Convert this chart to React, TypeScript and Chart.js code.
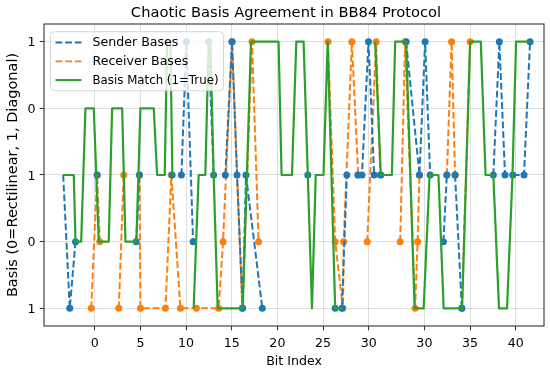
import React, { useEffect, useRef } from 'react';
import { Chart, registerables } from 'chart.js';

Chart.register(...registerables);

const TITLE = 'Chaotic Basis Agreement in BB84 Protocol';
const X_LABEL = 'Bit Index';
const Y_LABEL = 'Basis (0=Rectilinear, 1, Diagonal)';
const SERIES_NAMES = ['Sender Bases', 'Receiver Bases', 'Basis Match (1=True)'];

// y levels (bottom to top) and their printed labels
const LEVEL_TICKS = [0, 1, 2, 3, 4];
const LEVEL_LABELS = ['1', '0', '1', '0', '1'];

// x tick positions and their printed labels
const X_TICKS = [0, 5, 10, 15, 20, 25, 30, 36.1, 41.1, 46.1];
const X_TICK_LABELS = ['0', '5', '10', '15', '20', '25', '30', '30', '35', '40'];

// null = break in the line
const senderX = [-3.46, -2.74, -2.11, null, 0.26, null, 4.53, 4.89, null, 8.47, null, 9.49, 10.03, 10.77, null,
  12.47, 13.02, null, 14.3, 15.03, 15.58, 16.19, 16.56, 18.35, null, 23.33, null, 26.33, 27.07, 27.61, null,
  28.82, 29.26, 29.98, 30.6, null, 31.33, null, 34.1, 35.56, 36.18, 36.73, null, 38.18, 38.56, null,
  39.46, 40.2, null, 43.65, 44.31, 44.93, null, 45.78, 47.01, 47.67];
const senderY = [2, 0, 1, null, 2, null, 1, 2, null, 2, null, 2, 4, 1, null,
  4, 2, null, 2, 4, 2, 0, 2, 0, null, 2, null, 0, 0, 2, null,
  2, 2, 4, 2, null, 2, null, 4, 2, 4, 2, null, 1, 2, null,
  2, 0, null, 2, 4, 2, null, 2, 2, 4];

const receiverX = [-0.39, 0.26, 0.55, null, 2.63, 3.17, null, 4.89, 5.0, 7.74, 8.39, 9.38, 11.13, 13.57, 14.05,
  15.03, 16.16, 17.22, 17.94, null, 25.54, 26.33, 27.18, 27.26, 28.16, 28.85, null, 29.84, 30.82, 31.26, null,
  33.45, 33.99, 35.08, 35.36, 35.56, null, 38.56, 39.08, 39.46, null, 40.2, 41.11];
const receiverY = [0, 2, 1, null, 0, 2, null, 2, 0, 0, 2, 0, 0, 0, 1,
  4, 0, 4, 1, null, 4, 1, 0, 1, 4, 2, null, 1, 4, 2, null,
  1, 4, 0, 1, 2, null, 2, 4, 2, null, 0, 4];

const matchX = [-3.46, -2.3, -2.11, -1.49, -1.02, -0.11, 0.44, 1.53, 1.9, 3.0, 3.36, 4.56, 5.0, 6.46, 6.83, 7.66,
  7.92, 8.28, 8.5, null, 10.83, 11.38, 12.11, 12.47, 12.66, 13.02, 13.46, 16.21, 17.11, 20.13, 20.46, 21.6,
  22.07, 22.87, 23.79, 24.2, 25.05, 25.51, 26.33, 27.1, null, 30.71, 31.33, 32.54, 32.9, 34.1, 35.03, 36.02,
  36.67, 37.64, 38.21, 40.23, 41.11, 42.28, 42.8, 43.65, 44.27, 45.15, 45.75, 46.14, 47.67];
const matchY = [2, 2, 1, 1, 3, 3, 1, 1, 3, 3, 1, 1, 3, 3, 2, 2,
  4, 4, 2, null, 0, 2, 2, 4, 4, 2, 0, 0, 4, 4, 2, 2,
  4, 4, 0, 2, 2, 4, 0, 0, null, 4, 2, 2, 4, 4, 0, 0,
  2, 2, 0, 0, 4, 4, 2, 2, 0, 0, 2, 4, 4];

const X_MIN = -5.56;
const X_MAX = 49.2;
const Y_MIN = -0.265;
const Y_MAX = 4.265;

const BLUE = '#1f77b4';
const ORANGE = '#ff7f0e';
const GREEN = '#2ca02c';
const FONT = '"DejaVu Sans", sans-serif';

function toPoints(xs: (number | null)[], ys: (number | null)[]) {
  let last = 0;
  return xs.map((x, i) => {
    if (x !== null) last = x;
    return { x: last, y: ys[i] };
  });
}

const decorPlugin = {
  id: 'decor',
  afterDatasetsDraw(chart: any) {
    const { ctx, chartArea: a } = chart;
    ctx.save();
    // frame
    ctx.strokeStyle = '#333333';
    ctx.lineWidth = 1.1;
    ctx.strokeRect(a.left, a.top, a.right - a.left, a.bottom - a.top);

    // legend
    const lx = a.left + 6.5;
    const ly = a.top + 7.7;
    const lw = 173;
    const lh = 59;
    const r = 4;
    ctx.beginPath();
    ctx.moveTo(lx + r, ly);
    ctx.lineTo(lx + lw - r, ly);
    ctx.arcTo(lx + lw, ly, lx + lw, ly + r, r);
    ctx.lineTo(lx + lw, ly + lh - r);
    ctx.arcTo(lx + lw, ly + lh, lx + lw - r, ly + lh, r);
    ctx.lineTo(lx + r, ly + lh);
    ctx.arcTo(lx, ly + lh, lx, ly + lh - r, r);
    ctx.lineTo(lx, ly + r);
    ctx.arcTo(lx, ly, lx + r, ly, r);
    ctx.closePath();
    ctx.fillStyle = 'rgba(255,255,255,0.8)';
    ctx.fill();
    ctx.strokeStyle = 'rgba(204,204,204,0.8)';
    ctx.lineWidth = 1;
    ctx.stroke();

    const colors = [BLUE, ORANGE, GREEN];
    const rows = [10.8, 29.7, 48.4];
    ctx.font = `12.6px ${FONT}`;
    ctx.textBaseline = 'middle';
    ctx.textAlign = 'left';
    rows.forEach((dy, i) => {
      const y = ly + dy;
      ctx.beginPath();
      ctx.strokeStyle = colors[i];
      ctx.lineWidth = i === 2 ? 2.1 : 1.9;
      ctx.setLineDash(i === 2 ? [] : [6.8, 2.9]);
      ctx.moveTo(lx + 5, y);
      ctx.lineTo(lx + 31, y);
      ctx.stroke();
      ctx.setLineDash([]);
      ctx.fillStyle = '#000';
      ctx.fillText(SERIES_NAMES[i], lx + 42, y + 0.5, 126);
    });
    ctx.restore();
  },
  afterDraw(chart: any) {
    const { ctx, chartArea: a, scales } = chart;
    const xs = scales.x;
    const ys = scales.y;
    ctx.save();
    ctx.fillStyle = '#000';
    // title
    ctx.font = `14.7px ${FONT}`;
    ctx.textAlign = 'center';
    ctx.textBaseline = 'alphabetic';
    ctx.fillText(TITLE, (a.left + a.right) / 2 - 8, a.top - 7.3);

    // x tick labels
    ctx.font = `12.6px ${FONT}`;
    X_TICKS.forEach((v, i) => {
      ctx.fillText(X_TICK_LABELS[i], xs.getPixelForValue(v), a.bottom + 21);
    });
    // x label
    ctx.fillText(X_LABEL, (a.left + a.right) / 2, a.bottom + 39);

    // y tick labels
    ctx.textAlign = 'right';
    LEVEL_TICKS.forEach((v, i) => {
      ctx.fillText(LEVEL_LABELS[i], a.left - 8.6, ys.getPixelForValue(v) + 4.6);
    });
    // y label
    ctx.save();
    ctx.font = `14.5px ${FONT}`;
    ctx.translate(a.left - 27.5, (a.top + a.bottom) / 2);
    ctx.rotate(-Math.PI / 2);
    ctx.textAlign = 'center';
    ctx.fillText(Y_LABEL, 0, 0);
    ctx.restore();
    ctx.restore();
  },
};

export default function App() {
  const ref = useRef<HTMLCanvasElement | null>(null);

  useEffect(() => {
    document.body.style.margin = '0';
    const canvas = ref.current;
    if (!canvas) return;
    const dashed = [6.8, 2.9];
    const chart = new Chart(canvas, {
      type: 'line',
      data: {
        datasets: [
          {
            label: SERIES_NAMES[0],
            data: toPoints(senderX, senderY),
            borderColor: BLUE,
            backgroundColor: BLUE,
            borderWidth: 2,
            borderDash: dashed,
            borderJoinStyle: 'round',
            pointRadius: (c: any) => (c.dataIndex === 0 ? 0 : 3.5),
            pointBorderWidth: 0,
            pointBackgroundColor: BLUE,
            tension: 0,
            order: 1,
          },
          {
            label: SERIES_NAMES[1],
            data: toPoints(receiverX, receiverY),
            borderColor: ORANGE,
            backgroundColor: ORANGE,
            borderWidth: 2,
            borderDash: dashed,
            borderJoinStyle: 'round',
            pointRadius: 3.5,
            pointBorderWidth: 0,
            pointBackgroundColor: ORANGE,
            tension: 0,
            order: 2,
          },
          {
            label: SERIES_NAMES[2],
            data: toPoints(matchX, matchY),
            borderColor: GREEN,
            backgroundColor: GREEN,
            borderWidth: 2.2,
            borderJoinStyle: 'round',
            pointRadius: 0,
            tension: 0,
            order: 0,
          },
        ],
      },
      options: {
        responsive: false,
        animation: false,
        devicePixelRatio: 1,
        spanGaps: false,
        layout: { padding: { top: 24, right: 6, left: 0, bottom: 0 } },
        plugins: {
          legend: { display: false },
          title: { display: false },
          tooltip: { enabled: false },
        },
        scales: {
          x: {
            type: 'linear',
            min: X_MIN,
            max: X_MAX,
            afterBuildTicks: (s: any) => {
              s.ticks = X_TICKS.map((v) => ({ value: v }));
            },
            afterFit: (s: any) => {
              s.height = 44;
            },
            ticks: { display: false },
            border: { display: false },
            grid: {
              color: 'rgba(176,176,176,0.45)',
              lineWidth: 0.9,
              drawTicks: true,
              tickLength: 4.3,
              tickColor: '#333333',
              tickWidth: 1.1,
            },
          },
          y: {
            type: 'linear',
            min: Y_MIN,
            max: Y_MAX,
            afterBuildTicks: (s: any) => {
              s.ticks = LEVEL_TICKS.map((v) => ({ value: v }));
            },
            afterFit: (s: any) => {
              s.width = 44;
            },
            ticks: { display: false },
            border: { display: false },
            grid: {
              color: 'rgba(176,176,176,0.45)',
              lineWidth: 0.9,
              drawTicks: true,
              tickLength: 4.3,
              tickColor: '#333333',
              tickWidth: 1.1,
            },
          },
        },
      },
      plugins: [decorPlugin],
    } as any);
    return () => chart.destroy();
  }, []);

  return (
    <div style={{ width: 550, height: 370 }}>
      <canvas ref={ref} width={550} height={370} style={{ display: 'block' }} />
    </div>
  );
}
